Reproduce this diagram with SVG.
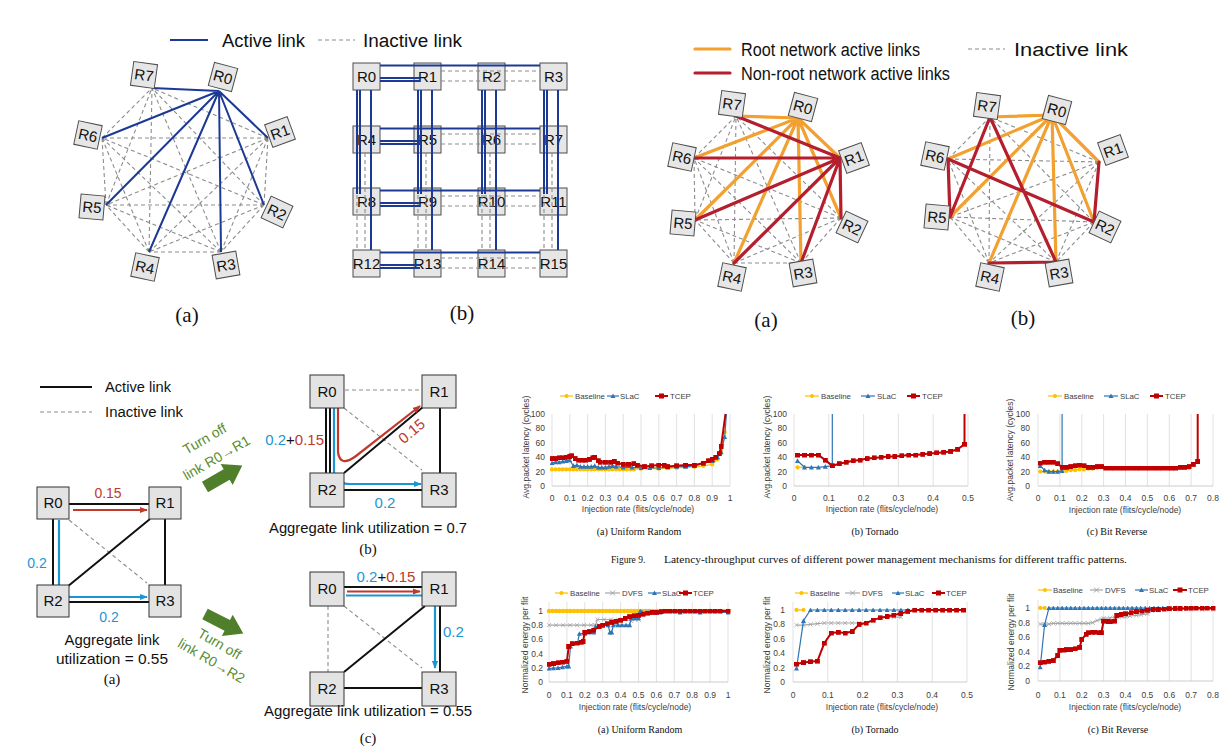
<svg xmlns="http://www.w3.org/2000/svg" width="1225" height="754" viewBox="0 0 1225 754">
<style>
.nb{fill:#E6E6E6;stroke:#4D4D4D;stroke-width:1}
.nl{font-family:"Liberation Sans",Arial,sans-serif;font-size:15px;text-anchor:middle;fill:#111}
.gl{font-family:"Liberation Sans",Arial,sans-serif;font-size:15px;text-anchor:middle;fill:#111}
.dash{stroke:#8C8C8C;stroke-width:1.1;stroke-dasharray:4 3;fill:none}
.blue{stroke:#1C3A94;stroke-width:2;fill:none}
.org{stroke:#F2A030;stroke-width:3.2;fill:none;stroke-linecap:round}
.red{stroke:#B41E2D;stroke-width:3.2;fill:none;stroke-linecap:round}
.blk{stroke:#111;stroke-width:2;fill:none}
.t{font-family:"Liberation Sans",Arial,sans-serif;fill:#111}
.cap{font-family:"Liberation Serif","Times New Roman",serif;fill:#111}
.tk{font-family:"Liberation Sans",Arial,sans-serif;font-size:8.5px;fill:#404040}
.lg{font-family:"Liberation Sans",Arial,sans-serif;font-size:7.8px;fill:#404040}
.mx{text-anchor:middle}
.me{text-anchor:end}
.grid{stroke:#D9D9D9;stroke-width:0.8}
.axis{stroke:#BFBFBF;stroke-width:0.8}
.sB{stroke:#FFC000;stroke-width:1.2;fill:none}
.sD{stroke:#A5A5A5;stroke-width:1.2;fill:none}
.sS{stroke:#2E75B6;stroke-width:1.2;fill:none}
.sT{stroke:#C00000;stroke-width:2;fill:none}
.bx{fill:#E3E3E3;stroke:#333;stroke-width:1}
.bl{font-family:"Liberation Sans",Arial,sans-serif;font-size:15px;text-anchor:middle;fill:#111}
.cb{stroke:#1B96D2;stroke-width:2.2;fill:none}
.cr{stroke:#C0392B;stroke-width:2.2;fill:none}
.grn{fill:#4F7F2A}
.gt{font-family:"Liberation Sans",Arial,sans-serif;font-size:14px;fill:#5B8C32;text-anchor:middle}
</style>
<defs>
<marker id="mC" viewBox="-3 -3 6 6" markerWidth="5" markerHeight="5" markerUnits="userSpaceOnUse" refX="0" refY="0"><circle r="2.5" fill="#FFC000"/></marker>
<marker id="mT" viewBox="-3 -3 6 6" markerWidth="5" markerHeight="5" markerUnits="userSpaceOnUse" refX="0" refY="0"><path d="M0,-3L3,2.5L-3,2.5Z" fill="#2E75B6"/></marker>
<marker id="mS" viewBox="-3 -3 6 6" markerWidth="5" markerHeight="5" markerUnits="userSpaceOnUse" refX="0" refY="0"><rect x="-3" y="-3" width="6" height="6" fill="#C00000"/></marker>
<marker id="mX" viewBox="-3 -3 6 6" markerWidth="5" markerHeight="5" markerUnits="userSpaceOnUse" refX="0" refY="0"><path d="M-2.5,-2.5L2.5,2.5M-2.5,2.5L2.5,-2.5" stroke="#A5A5A5" stroke-width="1"/></marker>
<marker id="arB" viewBox="0 0 10 10" refX="9" refY="5" markerWidth="8" markerHeight="8" markerUnits="userSpaceOnUse" orient="auto"><path d="M0,1L10,5L0,9Z" fill="#1B96D2"/></marker>
<marker id="arR" viewBox="0 0 10 10" refX="9" refY="5" markerWidth="8" markerHeight="8" markerUnits="userSpaceOnUse" orient="auto"><path d="M0,1L10,5L0,9Z" fill="#C0392B"/></marker>
</defs>
<rect width="1225" height="754" fill="#fff"/>

<!-- ===== Panel 1: octagon (a) ===== -->
<g id="p1-legend">
<line x1="170" y1="40" x2="208" y2="40" class="blue" stroke-width="2.5"/>
<text x="222" y="47" class="t" font-size="18" textLength="83" lengthAdjust="spacingAndGlyphs">Active link</text>
<line x1="318" y1="40" x2="355" y2="40" class="dash"/>
<text x="363" y="47" class="t" font-size="18" textLength="99" lengthAdjust="spacingAndGlyphs">Inactive link</text>
</g>
<g id="p1-links">
<path class="dash" d="M268,138L264,205M268,138L221,252M268,138L149,252M268,138L106,205M268,138L102,138M268,138L152,88M264,205L221,252M264,205L149,252M264,205L106,205M264,205L102,138M264,205L152,88M221,252L149,252M221,252L106,205M221,252L102,138M221,252L152,88M149,252L106,205M149,252L102,138M149,252L152,88M106,205L102,138M106,205L152,88M102,138L152,88"/>
<path class="blue" d="M219,91L152,88M219,91L102,138M219,91L106,205M219,91L149,252M219,91L221,252M219,91L264,205M219,91L268,138"/>
</g>
<g id="p1-R0" transform="translate(223,77) rotate(15)"><rect class="nb" x="-12" y="-12" width="24" height="24"/><text class="nl" y="5.5">R0</text></g>
<g id="p1-R1" transform="translate(280,132) rotate(-20)"><rect class="nb" x="-12" y="-12" width="24" height="24"/><text class="nl" y="5.5">R1</text></g>
<g id="p1-R2" transform="translate(277,212) rotate(25)"><rect class="nb" x="-12" y="-12" width="24" height="24"/><text class="nl" y="5.5">R2</text></g>
<g id="p1-R3" transform="translate(226,265) rotate(-10)"><rect class="nb" x="-12" y="-12" width="24" height="24"/><text class="nl" y="5.5">R3</text></g>
<g id="p1-R4" transform="translate(145,267) rotate(12)"><rect class="nb" x="-12" y="-12" width="24" height="24"/><text class="nl" y="5.5">R4</text></g>
<g id="p1-R5" transform="translate(92,207) rotate(5)"><rect class="nb" x="-12" y="-12" width="24" height="24"/><text class="nl" y="5.5">R5</text></g>
<g id="p1-R6" transform="translate(88,135) rotate(12)"><rect class="nb" x="-12" y="-12" width="24" height="24"/><text class="nl" y="5.5">R6</text></g>
<g id="p1-R7" transform="translate(144,75) rotate(8)"><rect class="nb" x="-12" y="-12" width="24" height="24"/><text class="nl" y="5.5">R7</text></g>
<text x="187" y="322" class="cap" font-size="21" text-anchor="middle">(a)</text>

<!-- ===== Panel 2: mesh (b) ===== -->
<g id="p2-nodes">
<g id="g-R0"><rect class="nb" x="353" y="63" width="27" height="27"/><text class="gl" x="366.5" y="82">R0</text></g>
<g id="g-R1"><rect class="nb" x="414" y="63" width="27" height="27"/><text class="gl" x="427.5" y="82">R1</text></g>
<g id="g-R2"><rect class="nb" x="478" y="63" width="27" height="27"/><text class="gl" x="491.5" y="82">R2</text></g>
<g id="g-R3"><rect class="nb" x="540" y="63" width="27" height="27"/><text class="gl" x="553.5" y="82">R3</text></g>
<g id="g-R4"><rect class="nb" x="353" y="126" width="27" height="27"/><text class="gl" x="366.5" y="145">R4</text></g>
<g id="g-R5"><rect class="nb" x="414" y="126" width="27" height="27"/><text class="gl" x="427.5" y="145">R5</text></g>
<g id="g-R6"><rect class="nb" x="478" y="126" width="27" height="27"/><text class="gl" x="491.5" y="145">R6</text></g>
<g id="g-R7"><rect class="nb" x="540" y="126" width="27" height="27"/><text class="gl" x="553.5" y="145">R7</text></g>
<g id="g-R8"><rect class="nb" x="353" y="188" width="27" height="27"/><text class="gl" x="366.5" y="207">R8</text></g>
<g id="g-R9"><rect class="nb" x="414" y="188" width="27" height="27"/><text class="gl" x="427.5" y="207">R9</text></g>
<g id="g-R10"><rect class="nb" x="478" y="188" width="27" height="27"/><text class="gl" x="491.5" y="207">R10</text></g>
<g id="g-R11"><rect class="nb" x="540" y="188" width="27" height="27"/><text class="gl" x="553.5" y="207">R11</text></g>
<g id="g-R12"><rect class="nb" x="353" y="250" width="27" height="27"/><text class="gl" x="366.5" y="269">R12</text></g>
<g id="g-R13"><rect class="nb" x="414" y="250" width="27" height="27"/><text class="gl" x="427.5" y="269">R13</text></g>
<g id="g-R14"><rect class="nb" x="478" y="250" width="27" height="27"/><text class="gl" x="491.5" y="269">R14</text></g>
<g id="g-R15"><rect class="nb" x="540" y="250" width="27" height="27"/><text class="gl" x="553.5" y="269">R15</text></g>
</g>
<g id="p2-links">
<path class="dash" d="M441,71H540M441,81H540M441,134H540M441,144H540M441,196H540M441,206H540M441,258H540M441,268H540M357,153V250M365,153V250M418,153V250M426,153V250M482,153V250M490,153V250M544,153V250M552,153V250"/>
<path class="blue" stroke-width="1.8" d="M380,65.5H540M380,78H420M380,81H420M380,128.5H540M380,141H420M380,144H420M380,190.5H540M380,203H420M380,206H420M380,252.5H540M380,265H420M380,268H420M357,90V194M360,90V194M371,90V250M418,90V194M421,90V194M432,90V250M482,90V194M485,90V194M496,90V250M544,90V194M547,90V194M558,90V250"/>
</g>
<text x="462" y="320" class="cap" font-size="21" text-anchor="middle">(b)</text>

<!-- ===== Panel 3: octagon (a) right ===== -->
<g id="p3-legend">
<line x1="695" y1="49" x2="730" y2="49" class="org" stroke-linecap="butt"/>
<text x="741" y="56" class="t" font-size="18" textLength="179" lengthAdjust="spacingAndGlyphs">Root network active links</text>
<line x1="695" y1="73" x2="730" y2="73" class="red" stroke-linecap="butt"/>
<text x="741" y="80" class="t" font-size="18" textLength="209" lengthAdjust="spacingAndGlyphs">Non-root network active links</text>
<line x1="968" y1="49" x2="1005" y2="49" class="dash"/>
<text x="1014" y="56" class="t" font-size="18" textLength="114" lengthAdjust="spacingAndGlyphs">Inactive link</text>
</g>
<g id="p3-links">
<path class="dash" d="M841,218L801,263M841,218L734,263M841,218L695,220M841,218L694,158M841,218L736,116M801,263L734,263M801,263L695,220M801,263L694,158M801,263L736,116M734,263L695,220M734,263L694,158M734,263L736,116M695,220L694,158M695,220L736,116M694,158L736,116"/>
<path class="org" d="M798,118L736,116M798,118L694,158M798,118L695,220M798,118L734,263M798,118L801,263M798,118L841,218M798,118L840,158"/>
<path class="red" d="M840,158L841,218M840,158L801,263M840,158L734,263M840,158L695,220M840,158L694,158M840,158L736,116"/>
</g>
<g id="p3-R0" transform="translate(803,107) rotate(15)"><rect class="nb" x="-12" y="-12" width="24" height="24"/><text class="nl" y="5.5">R0</text></g>
<g id="p3-R1" transform="translate(854,158) rotate(-20)"><rect class="nb" x="-12" y="-12" width="24" height="24"/><text class="nl" y="5.5">R1</text></g>
<g id="p3-R2" transform="translate(852,227) rotate(25)"><rect class="nb" x="-12" y="-12" width="24" height="24"/><text class="nl" y="5.5">R2</text></g>
<g id="p3-R3" transform="translate(803,273) rotate(-10)"><rect class="nb" x="-12" y="-12" width="24" height="24"/><text class="nl" y="5.5">R3</text></g>
<g id="p3-R4" transform="translate(732,277) rotate(12)"><rect class="nb" x="-12" y="-12" width="24" height="24"/><text class="nl" y="5.5">R4</text></g>
<g id="p3-R5" transform="translate(683,223) rotate(5)"><rect class="nb" x="-12" y="-12" width="24" height="24"/><text class="nl" y="5.5">R5</text></g>
<g id="p3-R6" transform="translate(682,157) rotate(12)"><rect class="nb" x="-12" y="-12" width="24" height="24"/><text class="nl" y="5.5">R6</text></g>
<g id="p3-R7" transform="translate(732,104) rotate(8)"><rect class="nb" x="-12" y="-12" width="24" height="24"/><text class="nl" y="5.5">R7</text></g>
<text x="766" y="327" class="cap" font-size="21" text-anchor="middle">(a)</text>

<!-- ===== Panel 4: octagon (b) right ===== -->
<g id="p4-links">
<path class="dash" d="M1099,162L1056,262M1099,162L989,263M1099,162L950,217M1099,162L948,159M1099,162L990,117M1094,222L1056,262M1094,222L989,263M1094,222L950,217M1094,222L990,117M1056,262L950,217M1056,262L948,159M989,263L950,217M989,263L948,159M989,263L990,117M948,159L990,117"/>
<path class="org" d="M1052,115L990,117M1052,115L948,159M1052,115L950,217M1052,115L989,263M1052,115L1056,262M1052,115L1094,222M1052,115L1099,162"/>
<path class="red" d="M990,117L950,217M990,117L1056,262M948,159L950,217M948,159L1094,222M1099,162L1094,222M989,263L1056,262"/>
</g>
<g id="p4-R0" transform="translate(1057,110) rotate(15)"><rect class="nb" x="-12" y="-12" width="24" height="24"/><text class="nl" y="5.5">R0</text></g>
<g id="p4-R1" transform="translate(1113,150) rotate(-20)"><rect class="nb" x="-12" y="-12" width="24" height="24"/><text class="nl" y="5.5">R1</text></g>
<g id="p4-R2" transform="translate(1105,227) rotate(25)"><rect class="nb" x="-12" y="-12" width="24" height="24"/><text class="nl" y="5.5">R2</text></g>
<g id="p4-R3" transform="translate(1059,273) rotate(-10)"><rect class="nb" x="-12" y="-12" width="24" height="24"/><text class="nl" y="5.5">R3</text></g>
<g id="p4-R4" transform="translate(990,277) rotate(12)"><rect class="nb" x="-12" y="-12" width="24" height="24"/><text class="nl" y="5.5">R4</text></g>
<g id="p4-R5" transform="translate(937,217) rotate(5)"><rect class="nb" x="-12" y="-12" width="24" height="24"/><text class="nl" y="5.5">R5</text></g>
<g id="p4-R6" transform="translate(935,156) rotate(12)"><rect class="nb" x="-12" y="-12" width="24" height="24"/><text class="nl" y="5.5">R6</text></g>
<g id="p4-R7" transform="translate(987,106) rotate(8)"><rect class="nb" x="-12" y="-12" width="24" height="24"/><text class="nl" y="5.5">R7</text></g>
<text x="1023" y="325" class="cap" font-size="21" text-anchor="middle">(b)</text>

<!-- ===== Bottom-left: link utilization ===== -->
<g id="bl-legend">
<line x1="40" y1="387" x2="92" y2="387" class="blk"/>
<text x="105" y="392" class="t" font-size="14" textLength="66" lengthAdjust="spacingAndGlyphs">Active link</text>
<line x1="40" y1="412" x2="92" y2="412" class="dash" stroke-width="1.4"/>
<text x="105" y="417" class="t" font-size="14" textLength="78" lengthAdjust="spacingAndGlyphs">Inactive link</text>
</g>
<g id="ua-links">
<path class="dash" stroke-width="1.4" d="M69,520L147,583"/>
<path class="blk" d="M69,504H149M53,519V585M165,519V585M69,602H149M67,587L150,519"/>
<path class="cr" marker-end="url(#arR)" d="M73,510H147"/>
<path class="cb" marker-end="url(#arB)" d="M59,520V585Q59,597 72,597H147"/>
</g>
<g id="ua-R0"><rect class="bx" x="37" y="487" width="32" height="32"/><text class="bl" x="53" y="508">R0</text></g>
<g id="ua-R1"><rect class="bx" x="149" y="487" width="32" height="32"/><text class="bl" x="165" y="508">R1</text></g>
<g id="ua-R2"><rect class="bx" x="37" y="585" width="32" height="32"/><text class="bl" x="53" y="606">R2</text></g>
<g id="ua-R3"><rect class="bx" x="149" y="585" width="32" height="32"/><text class="bl" x="165" y="606">R3</text></g>
<text x="108" y="498" class="t" font-size="14" text-anchor="middle" style="fill:#C0392B">0.15</text>
<text x="37" y="568" class="t" font-size="14" text-anchor="middle" style="fill:#1B96D2">0.2</text>
<text x="109" y="622" class="t" font-size="14" text-anchor="middle" style="fill:#1B96D2">0.2</text>
<text x="112" y="645" class="t" font-size="15" text-anchor="middle" textLength="95" lengthAdjust="spacingAndGlyphs">Aggregate link</text>
<text x="112" y="664" class="t" font-size="15" text-anchor="middle" textLength="112" lengthAdjust="spacingAndGlyphs">utilization = 0.55</text>
<text x="112" y="684" class="cap" font-size="15" text-anchor="middle">(a)</text>

<g id="turn1">
<polygon class="grn" transform="translate(205,487) rotate(-30)" points="0,-6 25,-6 25,-12 43,0 25,12 25,6 0,6"/>
<text class="gt" transform="translate(207,443) rotate(-30)">Turn off</text>
<text class="gt" transform="translate(219,462) rotate(-30)">link R0→R1</text>
</g>
<g id="turn2">
<polygon class="grn" transform="translate(205,614) rotate(27)" points="0,-6 25,-6 25,-12 43,0 25,12 25,6 0,6"/>
<text class="gt" transform="translate(217,648) rotate(30)">Turn off</text>
<text class="gt" transform="translate(209,665) rotate(30)">link R0→R2</text>
</g>

<!-- (b) -->
<g id="ub-links">
<path class="dash" stroke-width="1.4" d="M345,390H422M344,408L422,470"/>
<path class="blk" d="M326,408V473M330,408V473M440,408V473M344,490H422M344,473L423,407"/>
<path class="cr" marker-end="url(#arR)" d="M338,408V452Q340,468 356,456L420,406"/>
<path class="cb" marker-end="url(#arB)" d="M334,408V472Q336,484 350,484H421"/>
</g>
<g id="ub-R0"><rect class="bx" x="310" y="375" width="34" height="33"/><text class="bl" x="327" y="397">R0</text></g>
<g id="ub-R1"><rect class="bx" x="422" y="375" width="34" height="33"/><text class="bl" x="439" y="397">R1</text></g>
<g id="ub-R2"><rect class="bx" x="310" y="473" width="34" height="34"/><text class="bl" x="327" y="495">R2</text></g>
<g id="ub-R3"><rect class="bx" x="422" y="473" width="34" height="34"/><text class="bl" x="439" y="495">R3</text></g>
<text x="324" y="445" class="t" font-size="15" text-anchor="end"><tspan style="fill:#1B96D2">0.2</tspan><tspan>+</tspan><tspan style="fill:#C0392B">0.15</tspan></text>
<text class="t" font-size="15" text-anchor="middle" style="fill:#C0392B" transform="translate(415,435) rotate(-40)">0.15</text>
<text x="385" y="508" class="t" font-size="15" text-anchor="middle" style="fill:#1B96D2">0.2</text>
<text x="368" y="533" class="t" font-size="15" text-anchor="middle" textLength="198" lengthAdjust="spacingAndGlyphs">Aggregate link utilization = 0.7</text>
<text x="368" y="554" class="cap" font-size="15" text-anchor="middle">(b)</text>

<!-- (c) -->
<g id="uc-links">
<path class="dash" stroke-width="1.4" d="M328,606V672M344,606L422,668"/>
<path class="blk" d="M344,587H422M440,606V672M344,688H422M344,672L425,606"/>
<path class="cr" marker-end="url(#arR)" d="M347,591.5H420"/>
<path class="cb" marker-end="url(#arB)" d="M346,595.5H424Q435,595.5 435,607V668"/>
</g>
<g id="uc-R0"><rect class="bx" x="310" y="572" width="34" height="34"/><text class="bl" x="327" y="594">R0</text></g>
<g id="uc-R1"><rect class="bx" x="422" y="572" width="34" height="34"/><text class="bl" x="439" y="594">R1</text></g>
<g id="uc-R2"><rect class="bx" x="310" y="672" width="34" height="34"/><text class="bl" x="327" y="694">R2</text></g>
<g id="uc-R3"><rect class="bx" x="422" y="672" width="34" height="34"/><text class="bl" x="439" y="694">R3</text></g>
<text x="386" y="582" class="t" font-size="15" text-anchor="middle"><tspan style="fill:#1B96D2">0.2</tspan><tspan>+</tspan><tspan style="fill:#C0392B">0.15</tspan></text>
<text x="443" y="637" class="t" font-size="15" style="fill:#1B96D2">0.2</text>
<text x="368" y="716" class="t" font-size="15" text-anchor="middle" textLength="208" lengthAdjust="spacingAndGlyphs">Aggregate link utilization = 0.55</text>
<text x="368" y="743" class="cap" font-size="15" text-anchor="middle">(c)</text>

<!-- ===== Chart 1: Uniform Random latency ===== -->
<g id="chart1">
<path class="grid" d="M552,414V486M569.8,414V486M587.6,414V486M605.4,414V486M623.2,414V486M641,414V486M658.8,414V486M676.6,414V486M694.4,414V486M712.2,414V486M730,414V486"/>
<line class="axis" x1="552" y1="486" x2="730" y2="486"/>
<g class="tk me"><text x="545" y="417">100</text><text x="545" y="431.4">80</text><text x="545" y="445.8">60</text><text x="545" y="460.2">40</text><text x="545" y="474.6">20</text><text x="545" y="489">0</text></g>
<g class="tk mx"><text x="552" y="501">0</text><text x="569.8" y="501">0.1</text><text x="587.6" y="501">0.2</text><text x="605.4" y="501">0.3</text><text x="623.2" y="501">0.4</text><text x="641" y="501">0.5</text><text x="658.8" y="501">0.6</text><text x="676.6" y="501">0.7</text><text x="694.4" y="501">0.8</text><text x="712.2" y="501">0.9</text><text x="730" y="501">1</text></g>
<text class="tk mx" x="638" y="512">Injection rate (flits/cycle/node)</text>
<text class="tk mx" transform="translate(529,447) rotate(-90)">Avg.packet latency (cycles)</text>
<line class="sB" x1="560" y1="396" x2="573" y2="396"/><circle cx="566.5" cy="396" r="2" fill="#FFC000"/><text class="lg" x="575" y="399">Baseline</text>
<line class="sS" x1="607" y1="396" x2="619" y2="396"/><path d="M613,393.5L615.5,398L610.5,398Z" fill="#2E75B6"/><text class="lg" x="620" y="399">SLaC</text>
<line class="sT" x1="655" y1="396" x2="668" y2="396"/><rect x="659" y="393.5" width="5" height="5" fill="#C00000"/><text class="lg" x="670" y="399">TCEP</text>
<polyline class="sB" marker-start="url(#mC)" marker-mid="url(#mC)" marker-end="url(#mC)" points="552,469.4 555.6,469.4 559.1,469.4 562.7,469.4 566.2,469.4 569.8,469.4 573.4,469.4 576.9,469.4 580.5,469.4 584,469.4 587.6,469.4 591.2,469.4 594.7,469.4 598.3,469.4 601.8,469.4 605.4,469.4 609,469.4 612.5,469.4 616.1,469.4 619.6,469.4 623.2,469.4 626.8,469.4 630.3,469.4 633.9,469.4 641,468.7 658.8,468.7 676.6,468 694.4,467 703.3,466 712.2,464.4 717.5,459.4 721.1,451.4 724.7,432"/>
<polyline class="sS" marker-start="url(#mT)" marker-mid="url(#mT)" marker-end="url(#mT)" points="552,463 555.6,462.2 559.1,462.2 562.7,461.5 566.2,460.8 569.8,460.1 573.4,465.8 576.9,465.1 580.5,466.6 584,466.6 587.6,466.6 591.2,466.6 594.7,465.8 598.3,467.3 601.8,467.3 605.4,467.3 609,466.6 612.5,465.8 616.1,466.6 623.2,467.3 632.1,467.3 641,468 649.9,468 658.8,468 667.7,467.3 676.6,466.6 685.5,466.6 694.4,465.8 703.3,463.7 712.2,460.8 717.5,457.2 721.1,452.2 724.7,437"/>
<line class="sS" x1="724.7" y1="437" x2="726.4" y2="414"/>
<polyline class="sT" marker-start="url(#mS)" marker-mid="url(#mS)" marker-end="url(#mS)" points="552,458.6 555.6,458.6 559.1,457.9 562.7,457.9 566.2,457.2 569.8,456.5 571.6,455.8 575.1,458.6 578.7,460.1 582.3,460.1 585.8,460.1 589.4,459.4 592.9,457.9 594.7,457.2 598.3,460.8 600.1,462.2 605.4,462.2 610.7,462.2 614.3,461.5 617.9,463 623.2,464.4 628.5,464.4 633.9,463.7 637.4,465.1 644.6,466.6 651.7,465.8 658.8,465.1 664.1,465.1 667.7,466.6 676.6,465.8 685.5,465.1 694.4,465.1 703.3,463 708.6,460.8 712.2,459.4 715.8,457.2 719.3,453.6 721.1,446.4"/>
<line class="sT" x1="721.1" y1="446.4" x2="725.5" y2="414"/>
</g>
<text class="cap mx" x="639" y="535" font-size="10">(a) Uniform Random</text>

<!-- ===== Chart 2: Tornado latency ===== -->
<g id="chart2">
<path class="grid" d="M794,414V486M828.8,414V486M863.6,414V486M898.4,414V486M933.2,414V486M968,414V486"/>
<line class="axis" x1="794" y1="486" x2="968" y2="486"/>
<g class="tk me"><text x="787" y="417">100</text><text x="787" y="431.4">80</text><text x="787" y="445.8">60</text><text x="787" y="460.2">40</text><text x="787" y="474.6">20</text><text x="787" y="489">0</text></g>
<g class="tk mx"><text x="794" y="501">0</text><text x="828.8" y="501">0.1</text><text x="863.6" y="501">0.2</text><text x="898.4" y="501">0.3</text><text x="933.2" y="501">0.4</text><text x="968" y="501">0.5</text></g>
<text class="tk mx" x="882" y="512">Injection rate (flits/cycle/node)</text>
<text class="tk mx" transform="translate(770,447) rotate(-90)">Avg.packet latency (cycles)</text>
<line class="sB" x1="805" y1="396" x2="819" y2="396"/><circle cx="812" cy="396" r="2" fill="#FFC000"/><text class="lg" x="821" y="399">Baseline</text>
<line class="sS" x1="861" y1="396" x2="875" y2="396"/><path d="M868,393.5L870.5,398L865.5,398Z" fill="#2E75B6"/><text class="lg" x="877" y="399">SLaC</text>
<line class="sT" x1="907" y1="396" x2="920" y2="396"/><rect x="911" y="393.5" width="5" height="5" fill="#C00000"/><text class="lg" x="922" y="399">TCEP</text>
<polyline class="sB" marker-start="url(#mC)" marker-end="url(#mC)" points="797.5,467.3 804.5,467.3"/>
<polyline class="sS" marker-start="url(#mT)" marker-mid="url(#mT)" marker-end="url(#mT)" points="797.5,460.8 804.5,467.3 811.4,467.3 818.4,467.3 825.3,466.6 832.3,465.8"/>
<line class="sS" x1="832.3" y1="465.8" x2="832.3" y2="414"/>
<polyline class="sT" marker-start="url(#mS)" marker-mid="url(#mS)" marker-end="url(#mS)" points="797.5,455 804.5,455 811.4,455 818.4,455 825.3,460.1 832.3,465.8 839.3,463.7 846.2,462.2 853.2,460.8 860.1,460.1 867.1,458.6 874.1,457.9 881,457.2 888,456.5 894.9,456.5 901.9,455.8 908.9,455 915.8,455 922.8,454.3 929.7,453.6 936.7,452.9 943.7,452.2 950.6,451.4 957.6,449.3 964.5,444.2"/>
<line class="sT" x1="964.5" y1="444.2" x2="964.5" y2="414"/>
</g>
<text class="cap mx" x="875" y="535" font-size="10">(b) Tornado</text>

<!-- ===== Chart 3: Bit Reverse latency ===== -->
<g id="chart3">
<path class="grid" d="M1038,414V486M1059.9,414V486M1081.8,414V486M1103.6,414V486M1125.5,414V486M1147.4,414V486M1169.3,414V486M1191.1,414V486M1213,414V486"/>
<line class="axis" x1="1038" y1="486" x2="1213" y2="486"/>
<g class="tk me"><text x="1030" y="417">100</text><text x="1030" y="431.4">80</text><text x="1030" y="445.8">60</text><text x="1030" y="460.2">40</text><text x="1030" y="474.6">20</text><text x="1030" y="489">0</text></g>
<g class="tk mx"><text x="1038" y="501">0</text><text x="1059.9" y="501">0.1</text><text x="1081.8" y="501">0.2</text><text x="1103.6" y="501">0.3</text><text x="1125.5" y="501">0.4</text><text x="1147.4" y="501">0.5</text><text x="1169.3" y="501">0.6</text><text x="1191.1" y="501">0.7</text><text x="1213" y="501">0.8</text></g>
<text class="tk mx" x="1125" y="513">Injection rate (flits/cycle/node)</text>
<text class="tk mx" transform="translate(1013,450) rotate(-90)">Avg.packet latency (cycles)</text>
<line class="sB" x1="1048" y1="396" x2="1062" y2="396"/><circle cx="1055" cy="396" r="2" fill="#FFC000"/><text class="lg" x="1064" y="399">Baseline</text>
<line class="sS" x1="1104" y1="396" x2="1118" y2="396"/><path d="M1111,393.5L1113.5,398L1108.5,398Z" fill="#2E75B6"/><text class="lg" x="1120" y="399">SLaC</text>
<line class="sT" x1="1150" y1="396" x2="1163" y2="396"/><rect x="1154" y="393.5" width="5" height="5" fill="#C00000"/><text class="lg" x="1165" y="399">TCEP</text>
<polyline class="sB" marker-start="url(#mC)" marker-mid="url(#mC)" marker-end="url(#mC)" points="1040.2,471.6 1044.6,471.6 1048.9,471.6 1053.3,471.6 1057.7,471.6 1062.1,470.9 1066.5,470.9 1070.8,470.2 1075.2,470.2 1079.6,469.4 1084,469.4 1088.3,468.7 1092.7,468.7 1097.1,468 1110.2,468 1123.3,468 1136.5,468 1149.6,468 1162.7,468 1175.8,468 1189,468"/>
<polyline class="sS" marker-start="url(#mT)" marker-mid="url(#mT)" marker-end="url(#mT)" points="1040.2,465.8 1044.6,470.2 1048.9,471.6 1053.3,471.6 1057.7,471.6 1062.1,470.9"/>
<line class="sS" x1="1062.1" y1="470.9" x2="1062.1" y2="414"/>
<polyline class="sT" marker-start="url(#mS)" marker-mid="url(#mS)" marker-end="url(#mS)" points="1040.2,463 1044.6,462.2 1048.9,462.2 1053.3,462.2 1057.7,463.7 1062.1,467.3 1066.5,467.3 1070.8,466.6 1075.2,465.8 1079.6,465.1 1084,465.8 1088.3,467.3 1092.7,467.3 1097.1,466.6 1101.5,466.6 1105.8,468 1110.2,468 1114.6,468 1119,468 1123.3,468 1127.7,468 1132.1,468 1136.5,468 1140.8,468 1145.2,468 1149.6,468 1154,468 1158.3,468 1162.7,468 1167.1,468 1171.5,468 1175.8,468 1180.2,467.3 1184.6,467.3 1189,466.6 1193.3,464.4 1197.7,461.5"/>
<line class="sT" x1="1197.7" y1="461.5" x2="1197.7" y2="414"/>
</g>
<text class="cap mx" x="1117" y="535" font-size="10">(c) Bit Reverse</text>

<text class="cap" x="611" y="563" font-size="9.5">Figure 9.</text>
<text class="cap" x="664" y="563" font-size="9.5" textLength="463" lengthAdjust="spacingAndGlyphs">Latency-throughput curves of different power management mechanisms for different traffic patterns.</text>

<!-- ===== Chart 4: Uniform Random energy ===== -->
<g id="chart4">
<path class="grid" d="M549,602V682M566.9,602V682M584.8,602V682M602.7,602V682M620.6,602V682M638.5,602V682M656.4,602V682M674.3,602V682M692.2,602V682M710.1,602V682M728,602V682"/>
<line class="axis" x1="549" y1="682" x2="728" y2="682"/>
<g class="tk me"><text x="543" y="614">1</text><text x="543" y="628.2">0.8</text><text x="543" y="642.4">0.6</text><text x="543" y="656.6">0.4</text><text x="543" y="670.8">0.2</text><text x="543" y="685">0</text></g>
<g class="tk mx"><text x="549" y="698">0</text><text x="566.9" y="698">0.1</text><text x="584.8" y="698">0.2</text><text x="602.7" y="698">0.3</text><text x="620.6" y="698">0.4</text><text x="638.5" y="698">0.5</text><text x="656.4" y="698">0.6</text><text x="674.3" y="698">0.7</text><text x="692.2" y="698">0.8</text><text x="710.1" y="698">0.9</text><text x="728" y="698">1</text></g>
<text class="tk mx" x="635" y="710">Injection rate (flits/cycle/node)</text>
<text class="tk mx" transform="translate(528,645) rotate(-90)">Normalized energy per flit</text>
<line class="sB" x1="555" y1="593" x2="568" y2="593"/><circle cx="561.5" cy="593" r="2" fill="#FFC000"/><text class="lg" x="570" y="596">Baseline</text>
<line class="sD" x1="605" y1="593" x2="620" y2="593"/><path d="M610,590.5L615,595.5M610,595.5L615,590.5" stroke="#A5A5A5" stroke-width="1"/><text class="lg" x="622" y="596">DVFS</text>
<line class="sS" x1="648" y1="593" x2="661" y2="593"/><path d="M654.5,590.5L657,595L652,595Z" fill="#2E75B6"/><text class="lg" x="662" y="596">SLaC</text>
<line class="sT" x1="679" y1="593" x2="692" y2="593"/><rect x="683" y="590.5" width="5" height="5" fill="#C00000"/><text class="lg" x="693" y="596">TCEP</text>
<line x1="549" y1="611" x2="728" y2="611" stroke="#FFC000" stroke-width="4.5" stroke-linecap="round" stroke-dasharray="0 3.58"/>
<polyline class="sD" marker-start="url(#mX)" marker-mid="url(#mX)" points="549,625.2 556,625.2 563,625.2 570,625.2 577,625.2 584,625.2 591,625.2 595.5,625.2 597.3,619.5 604,619.5 611,619.5 618,619.5 625,619.5 631,620.9 635,619.5 638.5,619.5 642.1,612.4 647.5,611 728,611"/>
<polyline class="sS" marker-start="url(#mT)" marker-mid="url(#mT)" marker-end="url(#mT)" points="549,668.5 553.5,668.1 558,667.8 562.5,667.1 566.9,666.4 568.7,666.4 570.5,646.5 575.9,643 577.6,643 579.4,633.7 584.8,633.7 588.4,632.3 593.8,632.3 595.5,626.6 599,626 602.7,625.2 608.1,625.2 609.9,632.3 611.7,632.3 613.4,625.2 618,625.2 622,625.2 626,625.2 629.6,625.2 631.3,618.1 635,618.1 638.5,618.1 640.3,611 642.1,612.4 660,612.4 680,612.4 700,612.4 728,612.4"/>
<polyline class="sT" marker-start="url(#mS)" marker-mid="url(#mS)" marker-end="url(#mS)" points="549,664.3 553.5,663.6 558,662.8 562.4,662.1 566.9,661.4 568.7,646.5 572.3,643.7 577,643 581.2,642.2 583,641.5 584.8,632.3 589.3,631.6 593.8,630.2 599.1,626.6 602.7,625.2 607,623.8 611.7,622.4 616,621.4 620.6,620.2 625,618.4 629.6,616.7 634,615.8 638.5,615.3 643,614.2 647.5,613.1 652,612.4 656.4,612.4 661,611.7 665.4,611 670,611 675,611 680,611 685,611 690,611 695,611 700,611 705,611 710,611 715,611 720,611 728,611"/>
</g>
<text class="cap mx" x="640" y="733" font-size="10">(a) Uniform Random</text>

<!-- ===== Chart 5: Tornado energy ===== -->
<g id="chart5">
<path class="grid" d="M793,602V682M827.8,602V682M862.6,602V682M897.4,602V682M932.2,602V682M967,602V682"/>
<line class="axis" x1="793" y1="682" x2="967" y2="682"/>
<g class="tk me"><text x="785" y="613">1</text><text x="785" y="627.4">0.8</text><text x="785" y="641.8">0.6</text><text x="785" y="656.2">0.4</text><text x="785" y="670.6">0.2</text><text x="785" y="685">0</text></g>
<g class="tk mx"><text x="793" y="698">0</text><text x="827.8" y="698">0.1</text><text x="862.6" y="698">0.2</text><text x="897.4" y="698">0.3</text><text x="932.2" y="698">0.4</text><text x="967" y="698">0.5</text></g>
<text class="tk mx" x="882" y="710">Injection rate (flits/cycle/node)</text>
<text class="tk mx" transform="translate(770,645) rotate(-90)">Normalized energy per flit</text>
<line class="sB" x1="795" y1="593" x2="808" y2="593"/><circle cx="801.5" cy="593" r="2" fill="#FFC000"/><text class="lg" x="810" y="596">Baseline</text>
<line class="sD" x1="845" y1="593" x2="860" y2="593"/><path d="M850,590.5L855,595.5M850,595.5L855,590.5" stroke="#A5A5A5" stroke-width="1"/><text class="lg" x="862" y="596">DVFS</text>
<line class="sS" x1="892" y1="593" x2="904" y2="593"/><path d="M898,590.5L900.5,595L895.5,595Z" fill="#2E75B6"/><text class="lg" x="905" y="596">SLaC</text>
<line class="sT" x1="932" y1="593" x2="945" y2="593"/><rect x="936" y="590.5" width="5" height="5" fill="#C00000"/><text class="lg" x="946" y="596">TCEP</text>
<polyline class="sB" marker-start="url(#mC)" marker-end="url(#mC)" points="796.5,610 803.5,610"/>
<polyline class="sD" marker-start="url(#mX)" marker-mid="url(#mX)" marker-end="url(#mX)" points="796.5,625.1 803.5,625.1 810.4,624.4 817.4,623.7 824.3,623 831.3,623 838.3,623 845.2,623 852.2,623 859.1,623 866.1,623 873.1,620.8 880,617.2 887,617.2 893.9,617.2 900.9,617.2"/>
<polyline class="sS" marker-start="url(#mT)" marker-mid="url(#mT)" marker-end="url(#mT)" points="796.5,668.3 803.5,620.8 810.4,610 817.4,610 824.3,610 831.3,610 838.3,610 845.2,610 852.2,610 859.1,610 866.1,610 873.1,610 880,610 887,610 893.9,610 900.9,610 907.9,610"/>
<polyline class="sT" marker-start="url(#mS)" marker-mid="url(#mS)" marker-end="url(#mS)" points="796.5,664 803.5,662.6 810.4,661.8 817.4,661.1 824.3,643.1 831.3,633 838.3,632.3 845.2,633 852.2,631.6 859.1,624.4 866.1,623 873.1,620.1 880,617.9 887,616.5 893.9,615 900.9,613.6 907.9,611.4 914.8,610 921.8,610 928.7,610 935.7,610 942.7,610 949.6,610 956.6,610 963.5,610"/>
</g>
<text class="cap mx" x="875" y="733" font-size="10">(b) Tornado</text>

<!-- ===== Chart 6: Bit Reverse energy ===== -->
<g id="chart6">
<path class="grid" d="M1038,600V681M1059.9,600V681M1081.8,600V681M1103.6,600V681M1125.5,600V681M1147.4,600V681M1169.3,600V681M1191.1,600V681M1213,600V681"/>
<line class="axis" x1="1038" y1="681" x2="1213" y2="681"/>
<g class="tk me"><text x="1030" y="611">1</text><text x="1030" y="625.6">0.8</text><text x="1030" y="640.2">0.6</text><text x="1030" y="654.8">0.4</text><text x="1030" y="669.4">0.2</text><text x="1030" y="684">0</text></g>
<g class="tk mx"><text x="1038" y="698">0</text><text x="1059.9" y="698">0.1</text><text x="1081.8" y="698">0.2</text><text x="1103.6" y="698">0.3</text><text x="1125.5" y="698">0.4</text><text x="1147.4" y="698">0.5</text><text x="1169.3" y="698">0.6</text><text x="1191.1" y="698">0.7</text><text x="1213" y="698">0.8</text></g>
<text class="tk mx" x="1125" y="710">Injection rate (flits/cycle/node)</text>
<text class="tk mx" transform="translate(1014,642) rotate(-90)">Normalized energy per flit</text>
<line class="sB" x1="1038" y1="590" x2="1052" y2="590"/><circle cx="1045" cy="590" r="2" fill="#FFC000"/><text class="lg" x="1053" y="593">Baseline</text>
<line class="sD" x1="1090" y1="590" x2="1103" y2="590"/><path d="M1094,587.5L1099,592.5M1094,592.5L1099,587.5" stroke="#A5A5A5" stroke-width="1"/><text class="lg" x="1105" y="593">DVFS</text>
<line class="sS" x1="1135" y1="590" x2="1148" y2="590"/><path d="M1141.5,587.5L1144,592L1139,592Z" fill="#2E75B6"/><text class="lg" x="1149" y="593">SLaC</text>
<line class="sT" x1="1173" y1="590" x2="1187" y2="590"/><rect x="1177.5" y="587.5" width="5" height="5" fill="#C00000"/><text class="lg" x="1188" y="593">TCEP</text>
<polyline class="sB" marker-start="url(#mC)" marker-end="url(#mC)" points="1040.2,608 1044.6,608"/>
<polyline class="sD" marker-start="url(#mX)" marker-mid="url(#mX)" marker-end="url(#mX)" points="1040.2,624.1 1044.6,624.1 1048.9,624.1 1053.3,623.3 1057.7,623.3 1062.1,623.3 1066.5,623.3 1070.8,623.3 1075.2,623.3 1079.6,623.3 1084,623.3 1088.3,623.3 1092.7,622.6 1097.1,620.5 1101.5,619 1103.6,618.2 1110.2,618 1114.6,617.5 1119,617.5 1125.5,616.8 1130,616 1136.4,615.3 1141,614.6 1147.4,613.8 1151.8,610.9 1158.3,610.2 1169.3,609.5 1180,609.5 1191,609.5 1202,609.5 1213,609.5"/>
<polyline class="sS" marker-start="url(#mT)" marker-mid="url(#mT)" marker-end="url(#mT)" points="1040.2,667.1 1044.6,624.8 1048.9,608 1053.3,608 1057.7,608 1062.1,608 1066.5,608 1070.8,608 1075.2,608 1079.6,608 1084,608 1088.3,608 1092.7,608 1097.1,608 1101.5,608 1105.8,608 1110.2,608 1114.6,608 1119,608 1123.3,608 1127.7,608 1132.1,608 1136.5,608 1140.8,608 1145.2,608 1149.6,608 1154,608 1158.3,608 1162.7,608 1167.1,608"/>
<polyline class="sT" marker-start="url(#mS)" marker-mid="url(#mS)" marker-end="url(#mS)" points="1040.2,662.8 1044.6,662 1048.9,661.3 1053.3,660.6 1057.7,655.5 1059.9,650.3 1064,650 1066.4,649.6 1070.8,649.6 1075.2,648.9 1079.6,647.4 1081.8,639.4 1086.1,634.3 1088.3,632.8 1092.7,632.1 1094.9,632.1 1099.3,632.8 1101.4,632.8 1103.6,621.1 1108,621.5 1110.2,621.9 1114.6,621.1 1116.8,615.3 1121,614.5 1125.5,613.8 1131,612.8 1136.4,611.7 1142,611 1147.4,610.2 1153,609.5 1158.3,609.5 1164,609 1169.3,608.7 1175,608.5 1180,608.4 1186,608.2 1191.1,608 1196,608 1202,608 1207,608 1213,608"/>
</g>
<text class="cap mx" x="1118" y="733" font-size="10">(c) Bit Reverse</text>
</svg>
